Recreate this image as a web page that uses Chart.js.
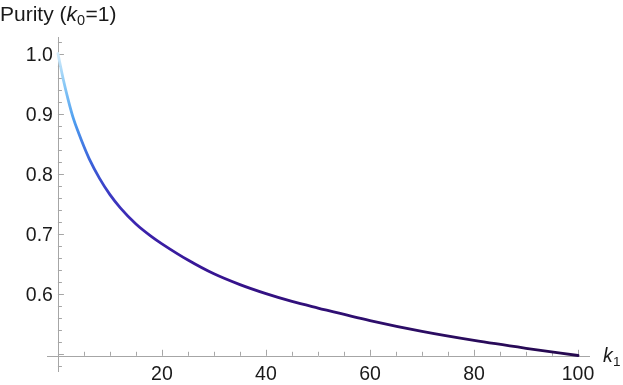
<!DOCTYPE html>
<html>
<head>
<meta charset="utf-8">
<script src="https://cdn.jsdelivr.net/npm/chart.js@4/dist/chart.umd.min.js"></script>
<style>
  html, body { margin: 0; padding: 0; background: #fff; }
  #wrap { width: 623px; height: 385px; }
</style>
</head>
<body>
<div id="wrap"><canvas id="purityChart" width="623" height="385"></canvas></div>
<script>
// Purity vs k1 (k0 = 1)
const k1Values = [0, 1, 2, 3, 4, 5, 6, 8, 10, 12, 15, 18, 20, 25, 30, 35, 40, 45, 50, 60, 70, 80, 90, 100]
const purity = [1.0, 0.958, 0.922, 0.891, 0.867, 0.845, 0.825, 0.792, 0.765, 0.743, 0.716, 0.695, 0.683, 0.656, 0.633, 0.615, 0.600, 0.587, 0.576, 0.555, 0.537, 0.522, 0.509, 0.497]
const xTicks = [20, 40, 60, 80, 100]
const yTicks = [0.6, 0.7, 0.8, 0.9, 1.0]
const yTickLabels = ['0.6', '0.7', '0.8', '0.9', '1.0']

;(function () {
  const FONT = '"Liberation Sans", Arial, sans-serif'
  const AXIS = '#a6a6a6'
  const TEXT = '#1a1a1a'
  const xCross = 0
  const yCross = 0.4965

  const points = k1Values.map((k, i) => ({ x: k, y: purity[i] }))

  function lineGradient(ctx) {
    const chart = ctx.chart
    if (!chart.chartArea) return '#3a1aa0'
    const y = chart.scales.y
    const g = chart.ctx.createLinearGradient(0, y.getPixelForValue(1.0), 0, y.getPixelForValue(0.497))
    g.addColorStop(0.0, '#d4ecfb')
    g.addColorStop(0.1, '#8ccaf6')
    g.addColorStop(0.22, '#4f9ff0')
    g.addColorStop(0.36, '#3b62da')
    g.addColorStop(0.46, '#3c3cc4')
    g.addColorStop(0.58, '#3b22ac')
    g.addColorStop(0.75, '#36138e')
    g.addColorStop(1.0, '#26094f')
    return g
  }

  const axesPlugin = {
    id: 'mmaAxes',
    beforeDatasetsDraw(chart) {
      const { ctx, chartArea: a } = chart
      const xs = chart.scales.x, ys = chart.scales.y
      const x0 = xs.getPixelForValue(xCross)
      const y0 = ys.getPixelForValue(yCross)
      ctx.save()
      ctx.strokeStyle = AXIS
      ctx.lineWidth = 1
      // axis lines
      ctx.beginPath()
      ctx.moveTo(a.left, Math.round(y0) + 0.5); ctx.lineTo(a.right, Math.round(y0) + 0.5)
      ctx.moveTo(Math.round(x0) + 0.5, a.top); ctx.lineTo(Math.round(x0) + 0.5, a.bottom)
      ctx.stroke()
      // x ticks
      ctx.beginPath()
      for (let k = 5; k <= 100; k += 5) {
        const px = Math.round(xs.getPixelForValue(k)) + 0.5
        const len = k % 20 === 0 ? 6 : 4
        ctx.moveTo(px, y0); ctx.lineTo(px, y0 - len)
      }
      // y ticks
      for (let i = 24; i <= 51; i++) {
        const v = i / 50
        const py = Math.round(ys.getPixelForValue(v)) + 0.5
        const len = i % 5 === 0 ? 6 : 4
        ctx.moveTo(x0, py); ctx.lineTo(x0 + len, py)
      }
      ctx.stroke()
      // labels
      ctx.fillStyle = TEXT
      ctx.font = '19.5px ' + FONT
      ctx.textAlign = 'center'
      ctx.textBaseline = 'alphabetic'
      xTicks.forEach((k) => ctx.fillText(String(k), xs.getPixelForValue(k), y0 + 24))
      ctx.textAlign = 'right'
      yTicks.forEach((v, i) => ctx.fillText(yTickLabels[i], x0 - 5, ys.getPixelForValue(v) + 7))
      // axis titles
      ctx.textAlign = 'left'
      ctx.font = 'italic 19.5px ' + FONT
      ctx.fillText('k', 603, 362)
      ctx.font = '13.5px ' + FONT
      ctx.fillText('1', 613, 366)
      let tx = 0
      const ty = 21
      ctx.font = '21px ' + FONT
      ctx.fillText('Purity (', tx, ty); tx += ctx.measureText('Purity (').width
      ctx.font = 'italic 21px ' + FONT
      ctx.fillText('k', tx, ty); tx += ctx.measureText('k').width
      ctx.font = '14.5px ' + FONT
      ctx.fillText('0', tx, ty + 4); tx += ctx.measureText('0').width + 0.5
      ctx.font = '21px ' + FONT
      ctx.fillText('=1)', tx, ty)
      ctx.restore()
    }
  }

  new Chart(document.getElementById('purityChart'), {
    type: 'line',
    data: {
      datasets: [{
        data: points,
        borderColor: lineGradient,
        borderWidth: 2.8,
        pointRadius: 0,
        fill: false,
        cubicInterpolationMode: 'monotone',
        borderCapStyle: 'round',
      }],
    },
    options: {
      responsive: false,
      animation: false,
      events: [],
      layout: { padding: { left: 47, right: 33, top: 37, bottom: 13 } },
      plugins: { legend: { display: false }, tooltip: { enabled: false } },
      scales: {
        x: { type: 'linear', min: -2.1, max: 102.3, display: false },
        y: { type: 'linear', min: 0.4695, max: 1.0275, display: false },
      },
    },
    plugins: [axesPlugin],
  })
})()
</script>
</body>
</html>
